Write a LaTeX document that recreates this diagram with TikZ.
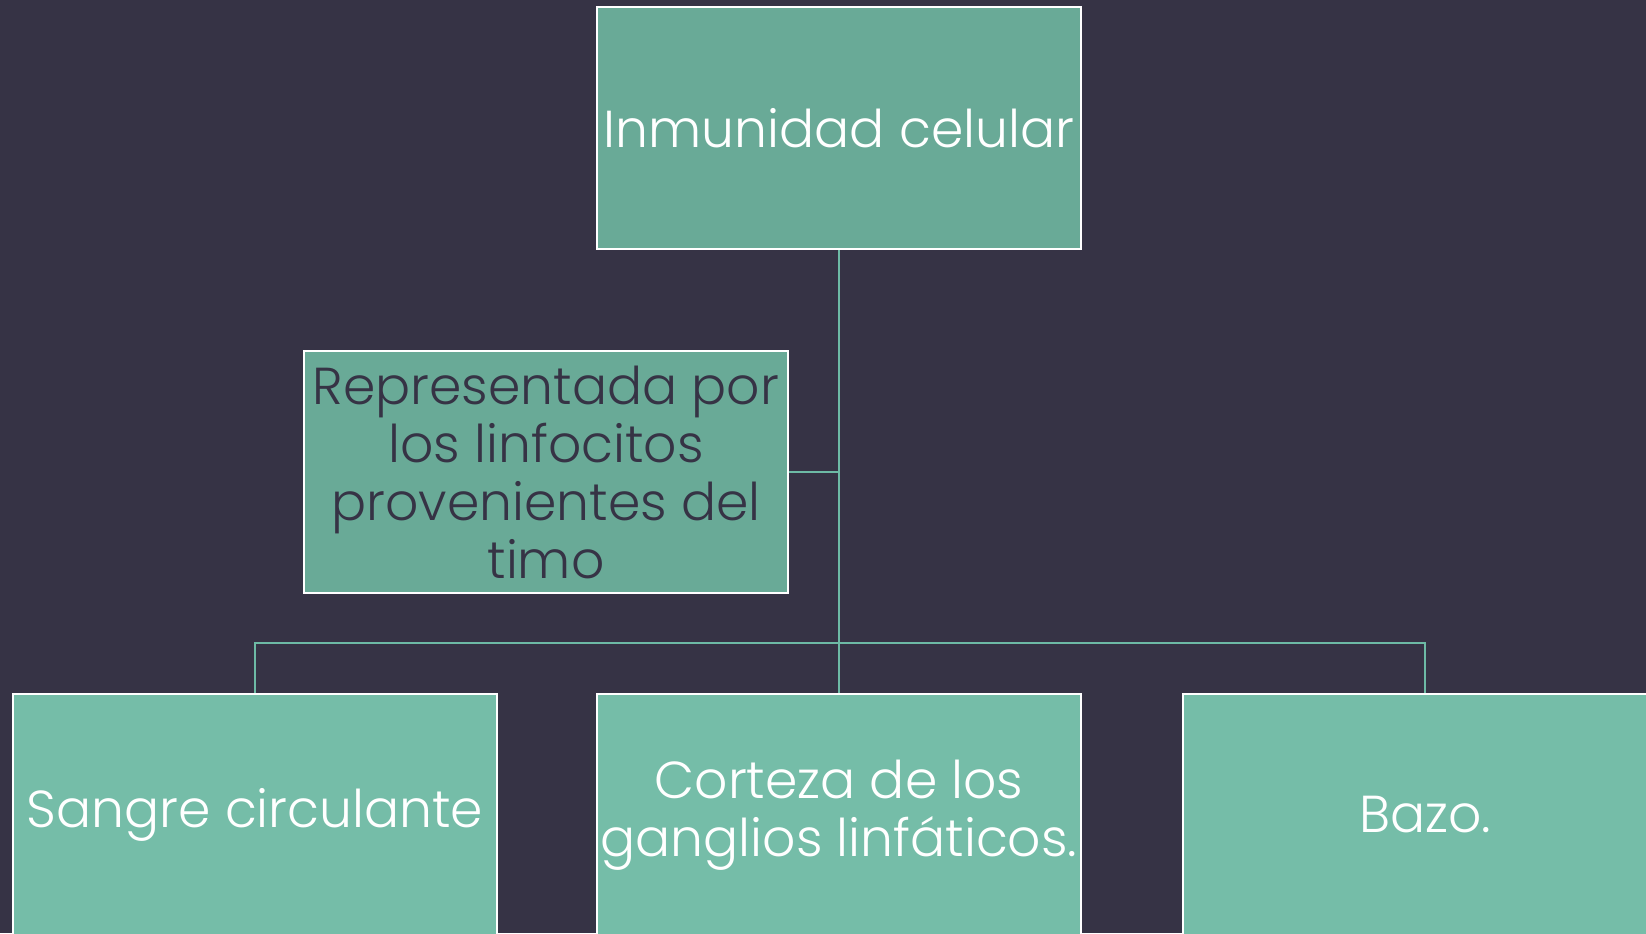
\documentclass[tikz,border=0pt]{standalone}
\usepackage{fontspec}
\setmainfont{Poppins}[UprightFont=* Light]
\usepackage{tikz}
\usetikzlibrary{positioning,calc}

\definecolor{slate}{HTML}{363345}
\definecolor{topgreen}{HTML}{69AA97}
\definecolor{leafgreen}{HTML}{75BDA8}
\definecolor{linkgreen}{HTML}{6DBAA5}

\tikzset{
  box/.style={draw=white, line width=1.1pt, minimum width=242pt, minimum height=121pt,
    inner sep=1pt, align=center, font=\fontsize{26}{29}\selectfont},
  headbox/.style={box, fill=topgreen, text=white},
  notebox/.style={box, fill=topgreen, text=slate},
  leafbox/.style={box, fill=leafgreen, text=white},
  link/.style={draw=linkgreen, line width=1pt}
}

\begin{document}
\begin{tikzpicture}[x=0.5pt,y=-0.5pt]
  \path[use as bounding box, clip] (0,0) rectangle (1646,933);
  \fill[slate] (0,0) rectangle (1646,933);

  % boxes
  \node[headbox] (head) at (839,128) {Inmunidad celular};
  \node[notebox] (note) at (546,472) {Representada por\\los linfocitos\\provenientes del\\timo};
  \node[leafbox] (blood) at (255,815) {Sangre circulante};
  \node[leafbox] (cortex) at (839,815) {Corteza de los\\ganglios linfáticos.};
  \node[leafbox] (spleen) at (1425,815) {Bazo.};

  % connectors
  \coordinate (bar) at (839,643);
  \draw[link] (head.south) -- (bar) -- (cortex.north);
  \draw[link] (note.east) -- (note.east -| head.south);
  \draw[link] (bar) -| (blood.north);
  \draw[link] (bar) -| (spleen.north);
\end{tikzpicture}
\end{document}
